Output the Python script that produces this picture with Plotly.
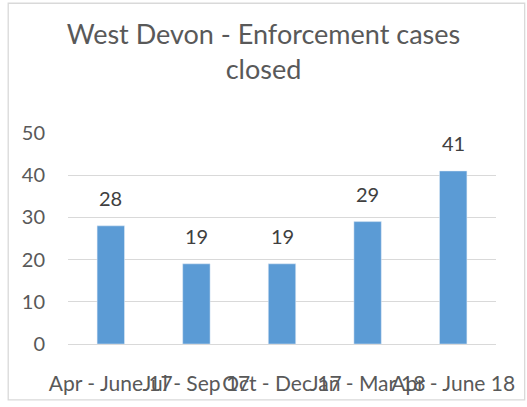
import plotly.graph_objects as go

categories = ["Apr - June 17", "Jul - Sep 17", "Oct - Dec 17", "Jan - Mar 18", "Apr - June 18"]
values = [28, 19, 19, 29, 41]
y_ticks = [0, 10, 20, 30, 40, 50]

W, H = 527, 407
L, R, T, B = 68, 26, 133, 61
pw, ph = W - L - R, H - T - B

fig = go.Figure(go.Bar(x=categories, y=values, marker_color="#5B9BD5", width=0.32))

for c, v in zip(categories, values):
    fig.add_annotation(x=c, y=v, text=str(v), showarrow=False, yanchor="bottom",
                       yshift=14, font=dict(size=20, color="#404040"))

def px_x(p):
    return (p - L) / pw

def px_y(p):
    return (H - B - p) / ph

fig.add_shape(type="rect", xref="paper", yref="paper",
              x0=px_x(7.5), x1=px_x(530), y0=px_y(402.5), y1=px_y(2),
              line=dict(color="#D9D9D9", width=1.3), layer="below")

fig.update_layout(
    width=W, height=H,
    margin=dict(l=L, r=R, t=T, b=B),
    paper_bgcolor="white", plot_bgcolor="white",
    font=dict(family="Lato, Open Sans, sans-serif", color="#595959", size=20),
    title=dict(text="West Devon - Enforcement cases<br>closed", x=0.5, xref="container",
               y=1 - 44 / H, yref="container", yanchor="top", xanchor="center",
               font=dict(size=27, color="#595959")),
    showlegend=False,
    xaxis=dict(tickangle=0, showgrid=False, showline=True, linecolor="#D9D9D9",
               linewidth=1.3, ticks="", tickfont=dict(size=21), ticklabelstandoff=21),
    yaxis=dict(range=[0, 50], tickvals=y_ticks, showgrid=True, gridcolor="#D9D9D9",
               gridwidth=1.3, zeroline=False, showline=False, ticks="",
               tickfont=dict(size=20), ticklabelstandoff=22),
)

fig.write_html("out.html", config={"displayModeBar": False},
               post_script="document.body.style.margin='0';document.body.style.overflow='hidden';")
